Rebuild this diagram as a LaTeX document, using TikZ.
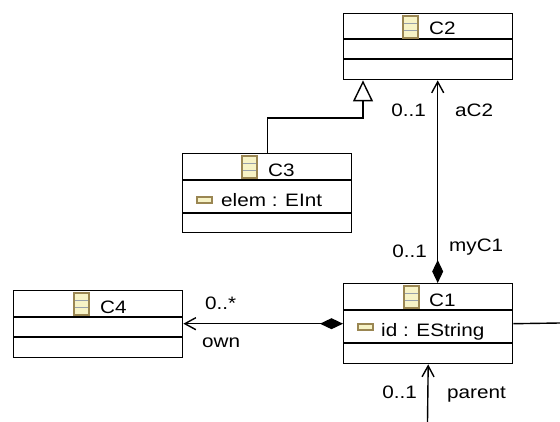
\documentclass[tikz,border=0pt]{standalone}
\usepackage{fontspec}
\setmainfont{Liberation Sans}[FakeStretch=1.15]
\usetikzlibrary{arrows.meta}

\definecolor{iconfill}{HTML}{F7F3C6}
\definecolor{iconline}{HTML}{9A8652}
\definecolor{iconband}{HTML}{98A0AA}

\tikzset{
    cls/.style={draw, line width=1.4pt, minimum width=169pt, inner sep=0pt, anchor=north west},
    sep/.style={line width=1.4pt},
    txt/.style={inner sep=0pt, anchor=base west},
    nav/.style={line width=1.4pt, -{Straight Barb[length=11pt,width=12pt]}},
    comp/.style={line width=1.4pt, {Diamond[length=23pt,width=11pt]}-{Straight Barb[length=11pt,width=12pt]}},
    inh/.style={line width=1.4pt, -{Triangle[open,length=21pt,width=20pt,fill=white]}},
    pics/clsicon/.style={code={
        \fill[iconfill] (0,0) rectangle (15,22);
        \draw[iconband, line width=1pt] (1,7.3) -- (14,7.3) (1,14.7) -- (14,14.7);
        \draw[iconline, line width=1.3pt] (0,0) rectangle (15,22);
    }},
    pics/attricon/.style={code={
        \draw[iconline, fill=iconfill, line width=1.3pt] (0,0) rectangle (15,6);
    }}
}

\begin{document}
\begin{tikzpicture}[x=1pt, y=-1pt, font=\fontsize{18}{21}\selectfont]
        \useasboundingbox (0,0) rectangle (560,422);

        % classes
        \node[cls, minimum height=66pt] (c2) at (343,13) {};
        \node[cls, minimum height=79pt] (c3) at (182,153) {};
        \node[cls, minimum height=80pt] (c1) at (343,283) {};
        \node[cls, minimum height=67pt] (c4) at (13,290) {};

        \draw[sep] (343,39) -- (512,39);
        \draw[sep] (343,59) -- (512,59);
        \draw[sep] (182,180) -- (351,180);
        \draw[sep] (182,213) -- (351,213);
        \draw[sep] (343,310) -- (512,310);
        \draw[sep] (343,343) -- (512,343);
        \draw[sep] (13,317) -- (182,317);
        \draw[sep] (13,337) -- (182,337);

        \pic at (403,16) {clsicon};
        \pic at (242,156) {clsicon};
        \pic at (404,286) {clsicon};
        \pic at (74,293) {clsicon};
        \pic at (197,197) {attricon};
        \pic at (358,324) {attricon};

        \node[txt] (t2) at (429,35) {C2};
        \node[txt] (t3) at (268,177) {C3};
        \node[txt] (t1) at (429,307) {C1};
        \node[txt] (t4) at (100,313) {C4};
        \node[txt] (a3) at (221,207) {elem : EInt};
        \node[txt] (a1) at (381,337) {id : EString};

        % connectors
        \coordinate (pin) at (427.5,422);
        \coordinate (rout) at (560,323);
        \draw[comp] ([xshift=9.5pt]c1.north) -- ([xshift=9.5pt]c2.south);
        \draw[comp] (c1.west) -- (c4.east |- c1.west);
        \draw[inh] (c3.north) -- ++(0,-35) -| ([xshift=20pt]c2.south west);
        \draw[nav] (pin) -- (c1.south);
        \draw[sep] (c1.east) -- (rout);

        % labels
        \node[txt, anchor=base east] (m2) at (426,117) {0..1};
        \node[txt] (r2) at (455,117) {aC2};
        \node[txt, anchor=base east] (m1) at (427,258) {0..1};
        \node[txt] (r1) at (449,252) {myC1};
        \node[txt] (m4) at (205,310) {0..*};
        \node[txt] (r4) at (202,347) {own};
        \node[txt, anchor=base east] (mp) at (417,398) {0..1};
        \node[txt] (rp) at (447,398) {parent};
\end{tikzpicture}
\end{document}
